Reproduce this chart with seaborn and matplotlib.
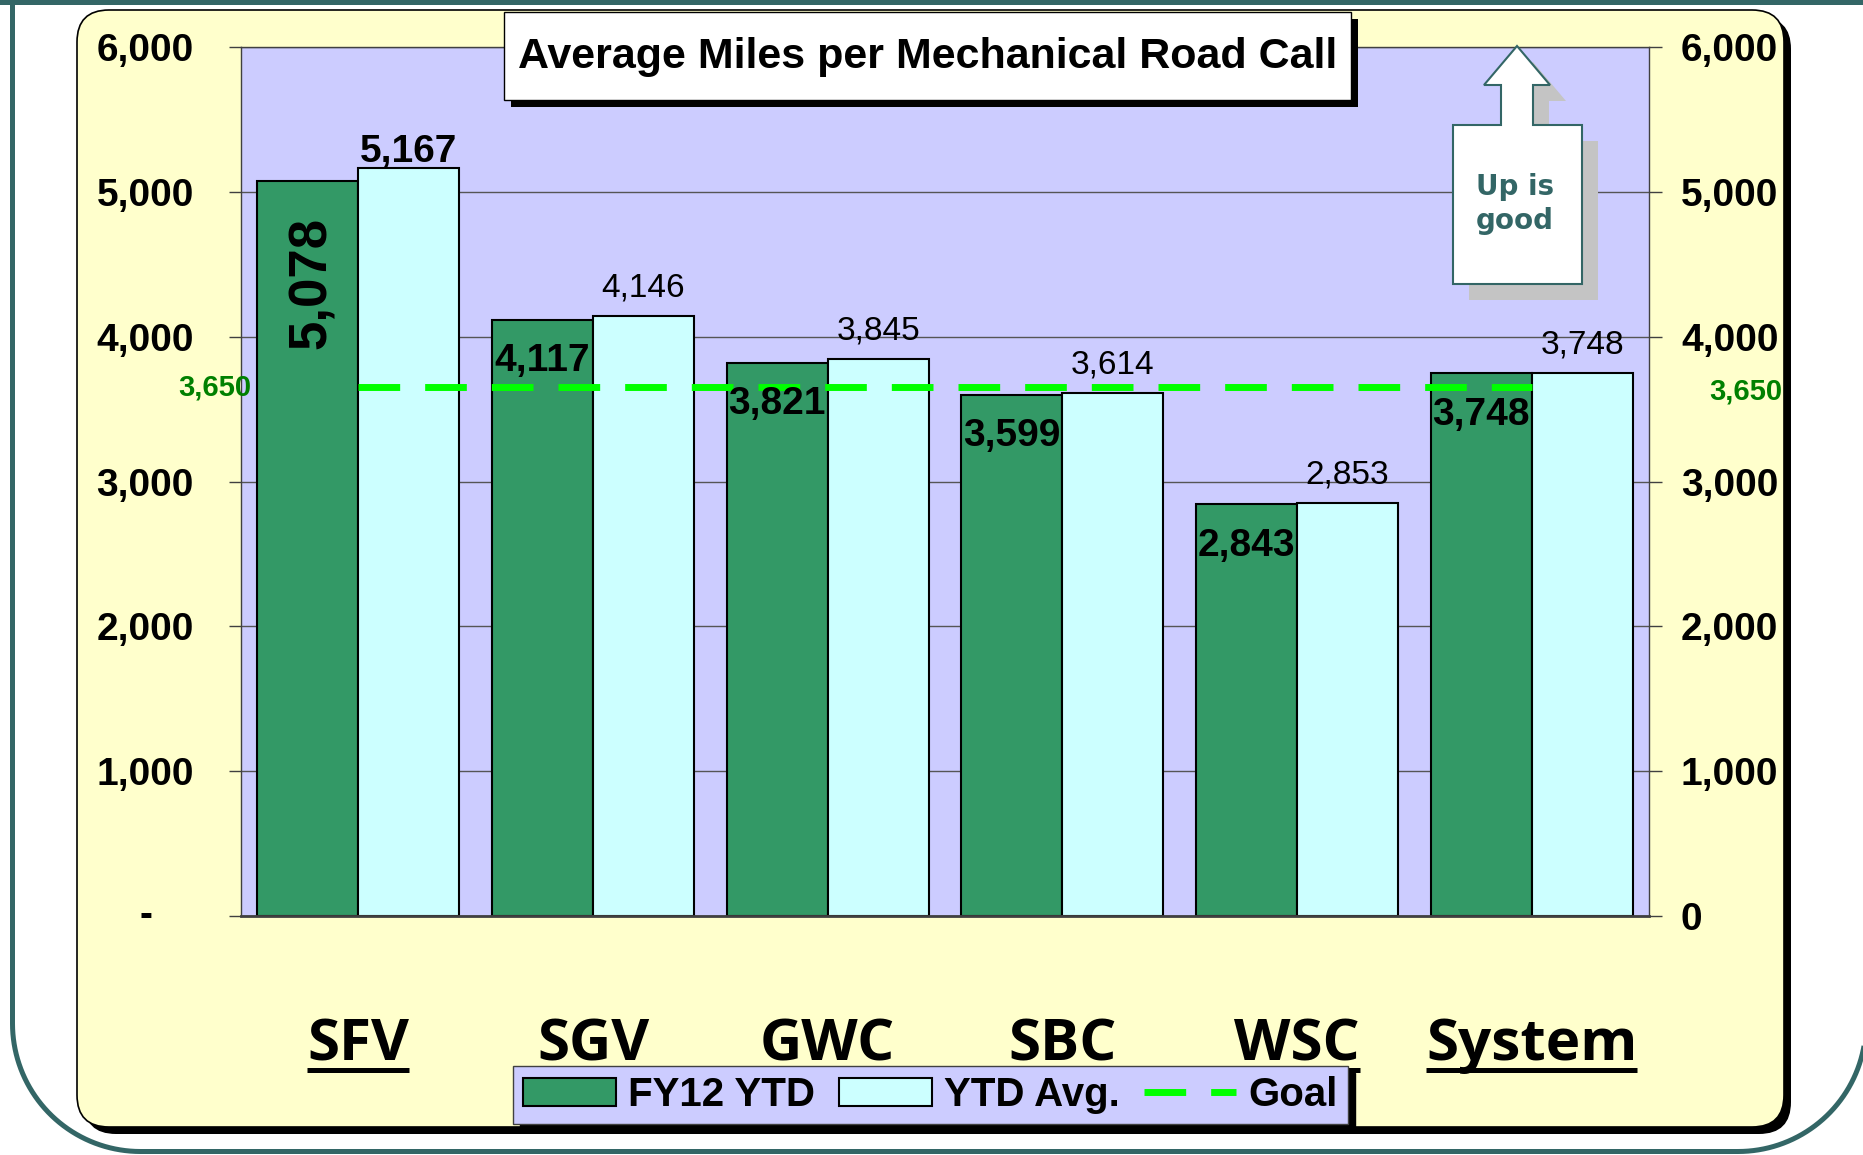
import matplotlib
matplotlib.use("Agg")
import numpy as np
import pandas as pd
import matplotlib.pyplot as plt
import seaborn as sns
from matplotlib.patches import FancyBboxPatch, Rectangle, Polygon, Patch, PathPatch
from matplotlib.path import Path
from matplotlib.lines import Line2D
from matplotlib.transforms import Affine2D

# chart data
regions = ["SFV", "SGV", "GWC", "SBC", "WSC", "System"]
fy12_ytd = [5078, 4117, 3821, 3599, 2843, 3748]
ytd_avg = [5167, 4146, 3845, 3614, 2853, 3748]
goal = 3650
series_names = ["FY12 YTD", "YTD Avg."]
y_ticks = [0, 1000, 2000, 3000, 4000, 5000, 6000]
title = "Average Miles per Mechanical Road Call"

GREEN = "#339966"
CYAN = "#CCFFFF"
LAVENDER = "#CCCCFF"
CREAM = "#FFFFCC"
TEAL = "#336666"
GOAL_CLR = "#00FF00"
GOAL_TXT = "#008000"

W, H = 1863, 1155
sns.set_theme(style="white")
plt.rcParams['font.family'] = ['Liberation Sans', 'DejaVu Sans']
plt.rcParams.update({"text.color": "black", "axes.labelcolor": "black",
                     "xtick.color": "black", "ytick.color": "black"})

fig = plt.figure(figsize=(W / 100, H / 100), dpi=100)
fig.patch.set_facecolor("white")
# pixel coords measured from the top-left corner
px = Affine2D().scale(1 / W, -1 / H).translate(0, 1) + fig.transFigure

# slide frame: open at the top, rounded bottom corners
r, xl, xr, yb = 128, 12.5, 1866, 1151.5
t_left = np.linspace(np.pi, np.pi / 2, 40)
t_right = np.linspace(np.pi / 2, 0, 40)
frame = [(xl, -10)]
frame += [(xl + r + r * np.cos(t), yb - r + r * np.sin(t)) for t in t_left]
frame += [(xr - r + r * np.cos(t), yb - r + r * np.sin(t)) for t in t_right]
frame += [(xr, -10)]
fig.add_artist(PathPatch(Path(frame), fill=False, ec=TEAL, lw=3.6, transform=px, zorder=-3))
fig.add_artist(Rectangle((0, 0), W, 5, fc=TEAL, ec="none", transform=px, zorder=-3))

# cream panel with shadow
fig.add_artist(FancyBboxPatch((84, 17), 1707, 1117, boxstyle="round,pad=0,rounding_size=32",
                              fc="black", ec="none", transform=px, zorder=-2))
fig.add_artist(FancyBboxPatch((77, 10), 1707, 1117, boxstyle="round,pad=0,rounding_size=32",
                              fc=CREAM, ec="black", lw=1.2, transform=px, zorder=-2))

ax = fig.add_axes([241 / W, 1 - 916 / H, 1408 / W, 869 / H])
ax.set_facecolor(LAVENDER)

df = pd.DataFrame({
    "Region": regions * 2,
    "Series": [series_names[0]] * len(regions) + [series_names[1]] * len(regions),
    "Miles": fy12_ytd + ytd_avg,
})
sns.barplot(data=df, x="Region", y="Miles", hue="Series", palette=[GREEN, CYAN],
            saturation=1, width=0.86, edgecolor="black", linewidth=1.5,
            legend=False, ax=ax, zorder=2)

ax.set_xlim(-0.5, len(regions) - 0.5)
ax.set_ylim(0, 6000)
ax.set_xlabel("")
ax.set_ylabel("")
ax.set_axisbelow(True)
ax.grid(axis="y", color="#555555", lw=1)
ax.grid(axis="x", visible=False)
for s in ax.spines.values():
    s.set_color("#404040")
    s.set_linewidth(1)
ax.spines["bottom"].set_linewidth(2)

ax.tick_params(axis="y", direction="out", length=9, width=1, color="#404040", pad=25, left=True)
ax.tick_params(axis="x", length=0, pad=103.7)
ax.set_yticks(y_ticks, labels=["" if v == 0 else f"{v:,}" for v in y_ticks],
              fontsize=28, fontweight="bold")
ax.set_xticks(range(len(regions)), labels=regions, family=["Open Sans", "DejaVu Sans"],
              fontsize=42, fontweight="bold", va="baseline")
ax.text(-0.0675, 0, "-", transform=ax.get_yaxis_transform(), ha="center", va="center",
        fontsize=28, fontweight="bold")

ax2 = ax.twinx()
ax2.set_ylim(0, 6000)
ax2.grid(False)
for s in ax2.spines.values():
    s.set_visible(False)
ax2.tick_params(axis="y", direction="out", length=9, width=1, color="#404040", pad=14, right=True)
ax2.set_yticks(y_ticks, labels=[f"{v:,}" for v in y_ticks], fontsize=28, fontweight="bold")
ax2.set_ylabel("")

# goal line and its labels
ax.plot([0, len(regions) - 1], [goal, goal], color=GOAL_CLR, lw=5, dashes=(6.0, 3.6), zorder=4)
ax.text(-0.0185, goal, f"{goal:,}", transform=ax.get_yaxis_transform(), ha="center",
        va="center", color=GOAL_TXT, fontsize=21, fontweight="bold", zorder=6)
ax.annotate(f"{goal:,}", (1.069, goal), xycoords=ax.get_yaxis_transform(), xytext=(0, -3),
            textcoords="offset points", ha="center", va="center", color=GOAL_TXT,
            fontsize=21, fontweight="bold", zorder=6, annotation_clip=False)

# bar value labels
green_bars, cyan_bars = ax.containers[0], ax.containers[1]
for i, (bar, val) in enumerate(zip(green_bars, fy12_ytd)):
    cx = bar.get_x() + bar.get_width() / 2
    if i == 0:
        ax.annotate(f"{val:,}", (cx, bar.get_height()), xytext=(3, -74), textcoords="offset points",
                    rotation=90, ha="center", va="center", fontsize=38, fontweight="bold", zorder=6)
    else:
        ax.annotate(f"{val:,}", (cx, bar.get_height()), xytext=(0, -30), textcoords="offset points",
                    ha="center", va="center", fontsize=28, fontweight="bold", zorder=6)
for i, (bar, val) in enumerate(zip(cyan_bars, ytd_avg)):
    cx = bar.get_x() + bar.get_width() / 2
    if i == 0:
        ax.annotate(f"{val:,}", (cx, bar.get_height()), xytext=(0, 4), textcoords="offset points",
                    ha="center", va="baseline", fontsize=28, fontweight="bold", zorder=6)
    else:
        ax.annotate(f"{val:,}", (cx, bar.get_height()), xytext=(0, 14), textcoords="offset points",
                    ha="center", va="baseline", fontsize=24, zorder=6)

# legend
handles = [Patch(fc=GREEN, ec="black", lw=1.5), Patch(fc=CYAN, ec="black", lw=1.5),
           Line2D([], [], color=GOAL_CLR, lw=5, dashes=(6.0, 3.6))]
leg = ax.legend(handles, series_names + ["Goal"], loc="upper left",
                bbox_to_anchor=(513 / W, 1 - 1066 / H), bbox_transform=fig.transFigure,
                ncol=3, prop={"weight": "bold", "size": 29}, frameon=True, fancybox=False,
                shadow={"color": "black", "alpha": 1, "ox": 5, "oy": -5},
                facecolor=LAVENDER, edgecolor="#404040", framealpha=1, borderpad=0.25,
                handlelength=2.3, handletextpad=0.3, columnspacing=0.6, borderaxespad=0)

# title box
fig.add_artist(Rectangle((511, 19), 847, 88, fc="black", ec="none", transform=px, zorder=5))
fig.add_artist(Rectangle((504, 12), 847, 88, fc="white", ec="black", lw=1, transform=px, zorder=5))
fig.text(927.5 / W, 1 - 57 / H, title, ha="center", va="center", fontsize=31,
         fontweight="bold", zorder=6)

# "Up is good" callout
arrow = [(1517, 46), (1550, 85), (1533, 85), (1533, 125), (1582, 125), (1582, 284),
         (1453, 284), (1453, 125), (1501, 125), (1501, 85), (1484, 85)]
fig.add_artist(Polygon([(x + 16, y + 16) for x, y in arrow], closed=True, fc="#C4C4C4",
                       ec="none", transform=px, zorder=5))
fig.add_artist(Polygon(arrow, closed=True, fc="white", ec=TEAL, lw=1.5, transform=px, zorder=5))
fig.text(1515 / W, 1 - 204 / H, "Up is\ngood", ha="center", va="center", fontsize=20,
         fontweight="bold", color=TEAL, family=["DejaVu Sans"], linespacing=1.3, zorder=6)

# underline the category labels
fig.canvas.draw()
for lbl in ax.get_xticklabels():
    bb = lbl.get_window_extent()
    fig.add_artist(Line2D([bb.x0, bb.x1], [1070, 1070], transform=px, color="black",
                          lw=3.6, solid_capstyle="butt", zorder=-0.5))

fig.savefig("out.png", dpi=100)
